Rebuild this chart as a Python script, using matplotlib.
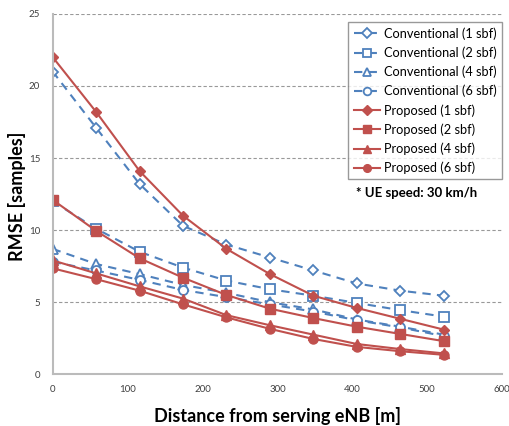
import matplotlib.pyplot as plt

plt.rcParams['font.family'] = ['Lato', 'DejaVu Sans']

# distance from serving eNB [m]
distance = [0, 58, 116, 174, 232, 290, 348, 406, 464, 522]

# conventional (dashed, hollow markers)
conv_1 = [21.0, 17.1, 13.2, 10.3, 9.0, 8.1, 7.2, 6.3, 5.8, 5.45]
conv_2 = [12.0, 10.1, 8.5, 7.4, 6.5, 5.9, 5.45, 4.95, 4.45, 4.0]
conv_4 = [8.7, 7.65, 6.95, 6.2, 5.65, 5.0, 4.5, 3.8, 3.3, 2.75]
conv_6 = [7.8, 7.2, 6.55, 5.85, 5.35, 4.85, 4.35, 3.75, 3.25, 2.65]

# proposed (solid, filled markers)
prop_1 = [22.0, 18.2, 14.1, 11.0, 8.7, 6.95, 5.45, 4.6, 3.85, 3.1]
prop_2 = [12.1, 9.95, 8.05, 6.7, 5.5, 4.55, 3.9, 3.3, 2.8, 2.3]
prop_4 = [7.9, 7.0, 6.1, 5.25, 4.1, 3.4, 2.75, 2.1, 1.75, 1.45]
prop_6 = [7.35, 6.6, 5.8, 4.85, 3.95, 3.15, 2.45, 1.9, 1.6, 1.35]

blue = '#4F81BD'
red = '#C0504D'

fig = plt.figure(figsize=(5.09, 4.26), dpi=100)
ax = fig.add_axes([0.1035, 0.1214, 0.883, 0.846])

conv = [(conv_1, 'D', 'Conventional (1 sbf)', 5.5),
        (conv_2, 's', 'Conventional (2 sbf)', 6.5),
        (conv_4, '^', 'Conventional (4 sbf)', 7),
        (conv_6, 'o', 'Conventional (6 sbf)', 6.5)]
for y, m, lab, ms in conv:
    ax.plot(distance, y, color=blue, ls=(0, (4, 3)), lw=1.5, marker=m,
            ms=ms, mfc='white', mec=blue, mew=1.3, label=lab)

prop = [(prop_1, 'D', 'Proposed (1 sbf)', 5.5),
        (prop_2, 's', 'Proposed (2 sbf)', 6.5),
        (prop_4, '^', 'Proposed (4 sbf)', 7),
        (prop_6, 'o', 'Proposed (6 sbf)', 6.5)]
for y, m, lab, ms in prop:
    ax.plot(distance, y, color=red, ls='-', lw=1.5, marker=m,
            ms=ms, mfc=red, mec=red, label=lab)

ax.set_xlim(0, 600)
ax.set_ylim(0, 25)
ax.set_xticks(range(0, 601, 100))
ax.set_yticks(range(0, 26, 5))
ax.tick_params(length=0, labelsize=7, colors='#404040')
ax.tick_params(axis='y', pad=9)
ax.tick_params(axis='x', pad=8)
ax.yaxis.grid(True, ls=(0, (3, 2)), color='#999999', lw=0.8)
ax.set_axisbelow(True)
for s in ['top', 'right']:
    ax.spines[s].set_visible(False)
for s in ['left', 'bottom']:
    ax.spines[s].set_color('#BBBBBB')
    ax.spines[s].set_linewidth(1.5)

ax.set_xlabel('Distance from serving eNB [m]', fontsize=13, fontweight='bold', labelpad=9)
fig.text(0.033, 0.54, 'RMSE [samples]', fontsize=13, fontweight='bold',
         rotation=90, ha='center', va='center')

leg = ax.legend(loc='upper right', bbox_to_anchor=(1.0, 0.977), fontsize=9.2,
                frameon=True, fancybox=False, edgecolor='#808080',
                handlelength=2.1, labelspacing=0.52, borderpad=0.4,
                handletextpad=0.3, borderaxespad=0, markerscale=0.85)
leg.get_frame().set_linewidth(1.0)

fig.text(0.818, 0.546, '* UE speed: 30 km/h', fontsize=9.5, fontweight='bold',
         ha='center', va='center')

fig.savefig('out.png', dpi=100)
